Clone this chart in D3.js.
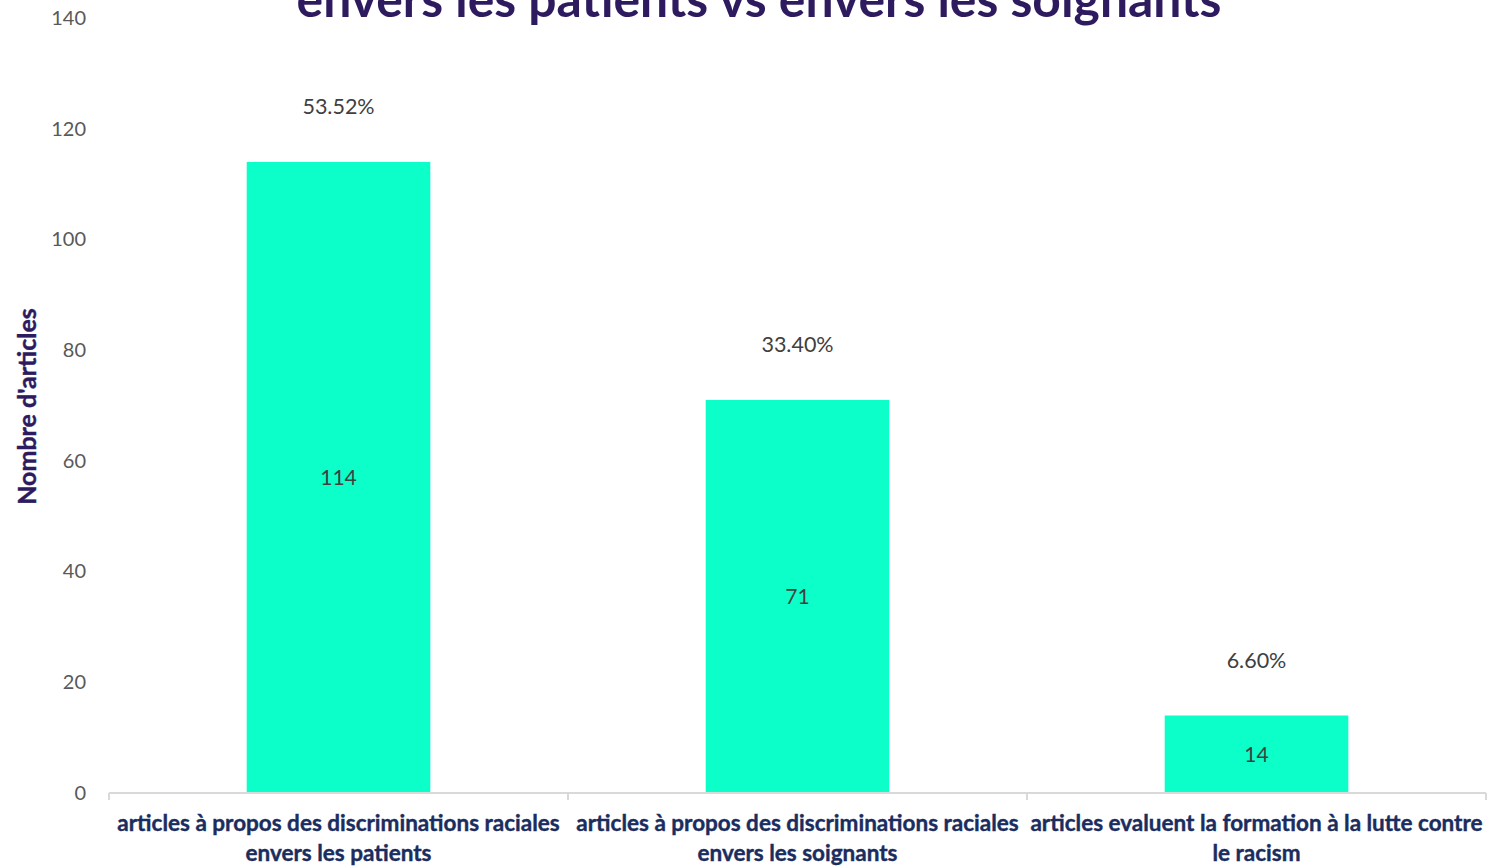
<!DOCTYPE html>
<html>
<head>
<meta charset="utf-8">
<script src="https://cdn.jsdelivr.net/npm/d3@7"></script>
<style>
  body { margin: 0; background: #fff; }
  svg { display: block; font-family: Lato, "Open Sans", sans-serif; }
</style>
</head>
<body>
<svg id="chart"></svg>
<script>
const categories = [
    ["articles à propos des discriminations raciales", "envers les patients"],
    ["articles à propos des discriminations raciales", "envers les soignants"],
    ["articles evaluent la formation à la lutte contre", "le racism"]
];
const counts = [114, 71, 14];
const percents = ["53.52%", "33.40%", "6.60%"];
const yTicks = [0, 20, 40, 60, 80, 100, 120, 140];
const titleText = "envers les patients vs envers les soignants";
const yTitle = "Nombre d'articles";

const width = 1488, height = 866;
const margin = { top: 18, right: 2, bottom: 73, left: 109 };
const innerW = width - margin.left - margin.right;
const innerH = height - margin.top - margin.bottom;

const svg = d3.select('#chart')
    .attr('width', width)
    .attr('height', height);

const chart = svg.append('g')
    .attr('transform', `translate(${margin.left}, ${margin.top})`);

const xscale = d3.scaleBand()
    .domain(d3.range(categories.length))
    .range([0, innerW])
    .paddingInner(0.6)
    .paddingOuter(0.3);

const yscale = d3.scaleLinear()
    .domain([0, 140])
    .range([innerH, 0]);

// y ticks (labels only, no axis line)
const yaxis = d3.axisLeft(yscale)
    .tickValues(yTicks)
    .tickSize(0)
    .tickPadding(23);

chart.append('g')
    .call(yaxis)
    .call(g => g.select('.domain').remove())
    .selectAll('text')
    .style('font-size', '20px')
    .style('font-family', 'Lato, sans-serif')
    .attr('fill', '#595959');

// bars
chart.selectAll('rect.bar')
    .data(counts)
    .join('rect')
    .attr('class', 'bar')
    .attr('x', (d, i) => xscale(i))
    .attr('y', d => yscale(d))
    .attr('width', xscale.bandwidth())
    .attr('height', d => innerH - yscale(d))
    .attr('fill', '#0cffc9');

// x axis line with boundary ticks
const step = xscale.step();
const bounds = d3.range(categories.length + 1).map(i => i * step);
const xg = chart.append('g').attr('transform', `translate(0, ${innerH})`);
xg.append('line')
    .attr('x1', 0).attr('x2', innerW)
    .attr('stroke', '#d9d9d9').attr('stroke-width', 2);
xg.selectAll('line.tick')
    .data(bounds)
    .join('line')
    .attr('class', 'tick')
    .attr('x1', d => d).attr('x2', d => d)
    .attr('y1', 0).attr('y2', 7)
    .attr('stroke', '#d9d9d9').attr('stroke-width', 2);

// category labels
const cx = i => xscale(i) + xscale.bandwidth() / 2;
categories.forEach((lines, i) => {
    const t = xg.append('text')
        .attr('text-anchor', 'middle')
        .style('font-size', '22.5px')
        .style('font-weight', 'bold')
        .style('stroke', '#1a2d5e')
        .style('stroke-width', 0.4)
        .attr('fill', '#1a2d5e');
    lines.forEach((ln, k) => {
        t.append('tspan')
            .attr('x', cx(i))
            .attr('y', 38 + k * 30)
            .text(ln);
    });
});

// value labels in the middle of the bars
chart.selectAll('text.val')
    .data(counts)
    .join('text')
    .attr('class', 'val')
    .attr('x', (d, i) => cx(i))
    .attr('y', d => (yscale(d) + innerH) / 2)
    .attr('dy', '0.35em')
    .attr('text-anchor', 'middle')
    .style('font-size', '21px')
    .attr('fill', '#404040')
    .text(d => d);

// percentage labels above the bars
chart.selectAll('text.pct')
    .data(counts)
    .join('text')
    .attr('class', 'pct')
    .attr('x', (d, i) => cx(i))
    .attr('y', d => yscale(d) - 55)
    .attr('dy', '0.35em')
    .attr('text-anchor', 'middle')
    .style('font-size', '21.5px')
    .attr('fill', '#404040')
    .text((d, i) => percents[i]);

// y title
svg.append('text')
    .attr('transform', `translate(36, ${margin.top + innerH / 2 + 1}) rotate(-90)`)
    .attr('text-anchor', 'middle')
    .style('font-size', '25px')
    .style('font-weight', 'bold')
    .style('stroke', '#2e1a5e')
    .style('stroke-width', 0.4)
    .attr('fill', '#2e1a5e')
    .text(yTitle);

// title (cut off at top, as in the source)
const title = svg.append('text')
    .attr('x', 759)
    .attr('y', 17)
    .attr('text-anchor', 'middle')
    .style('font-size', '42px')
    .style('font-weight', 'bold')
    .attr('fill', '#2e1a5e')
    .text(titleText);
const tw = title.node().getComputedTextLength();
title.style('font-size', (42 * 925 / tw) + 'px');
</script>
</body>
</html>
